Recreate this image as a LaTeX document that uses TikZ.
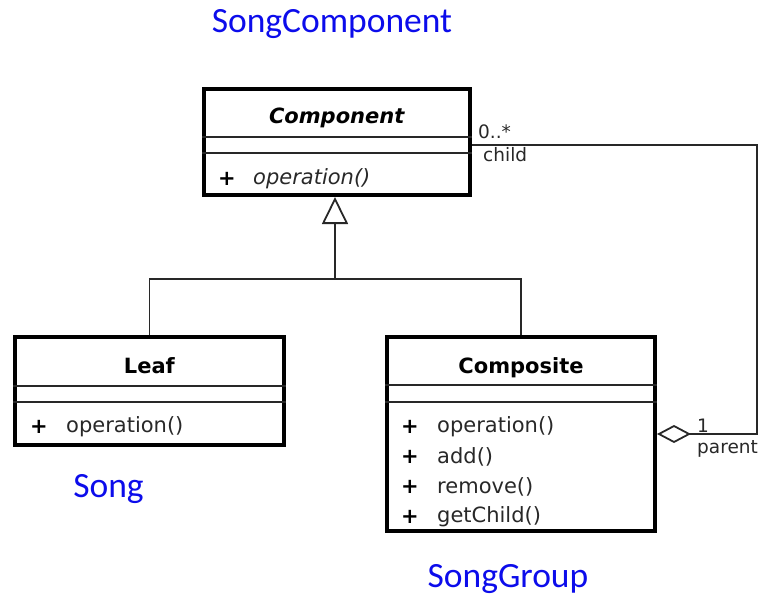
\documentclass[tikz,border=0pt]{standalone}
\usepackage{fontspec}
\setmainfont{DejaVu Sans}
\newfontfamily\songfont{Carlito}
\usetikzlibrary{arrows.meta}
\definecolor{songblue}{RGB}{12,12,235}
\definecolor{umlgray}{RGB}{40,40,40}

\begin{document}
\begin{tikzpicture}[x=1pt, y=-1pt,
  umlfont/.style={font=\fontsize{21}{25}\selectfont, text=umlgray, inner sep=0pt},
  rolefont/.style={font=\fontsize{18.5}{21}\selectfont, text=umlgray, inner sep=0pt},
  songlabel/.style={font=\songfont\fontsize{35.5}{40}\selectfont, text=songblue, inner sep=0pt, anchor=base},
  conn/.style={draw=umlgray, line width=1.8pt}]
\useasboundingbox (0,0) rectangle (778,596);

% class boxes
\node (comp) [draw, line width=4pt, minimum width=266pt, minimum height=106pt, inner sep=0pt] at (337,142) {};
\node (leaf) [draw, line width=4pt, minimum width=269pt, minimum height=108pt, inner sep=0pt] at (149.5,391) {};
\node (compos) [draw, line width=4pt, minimum width=268pt, minimum height=194pt, inner sep=0pt] at (521,434) {};
\foreach \n/\a/\b in {comp/50/66, leaf/51/67, compos/50/67} {
  \draw[umlgray, line width=1.8pt] ([yshift=-\a pt]\n.north west) -- ([yshift=-\a pt]\n.north east);
  \draw[umlgray, line width=1.8pt] ([yshift=-\b pt]\n.north west) -- ([yshift=-\b pt]\n.north east);
}

% names
\node (compname) [umlfont, text=black, anchor=base] at (337,124) {\textbf{\textit{Component}}};
\node (leafname) [umlfont, text=black, anchor=base] at (149.5,373) {\textbf{Leaf}};
\node (composname) [umlfont, text=black, anchor=base] at (521,373) {\textbf{Composite}};

% operations
\node (compplus) [umlfont, text=black] at (227,179) {\textbf{+}};
\node (compop) [umlfont, anchor=west] at (253,179) {\textit{operation()}};
\node (leafplus) [umlfont, text=black] at (39,427) {\textbf{+}};
\node (leafop) [umlfont, anchor=west] at (66,427) {operation()};
\foreach \op [count=\i from 0] in {operation(), add(), remove(), getChild()} {
  \node (composplus\i) [umlfont, text=black] at (410,427+30*\i) {\textbf{+}};
  \node (composop\i) [umlfont, anchor=west] at (437,427+30*\i) {\op};
}

% generalization
\coordinate (junc) at (335,279);
\draw[conn, -{Triangle[open, length=27pt, width=26pt]}] (junc) -- (junc |- comp.south);
\draw[conn] (leaf.north) |- (junc) -| (compos.north);

% aggregation
\coordinate (corner) at (757,145);
\draw[conn, {Diamond[open, length=34pt, width=18pt]}-] (compos.east) -| (corner) -- (corner -| comp.east);
\node (childmult) [rolefont, anchor=base west] at (478,139) {0..*};
\node (childrole) [rolefont, anchor=base west] at (483,162) {child};
\node (parentmult) [rolefont, anchor=base west] at (697,432) {1};
\node (parentrole) [rolefont, anchor=base west] at (697,453) {parent};

% song labels
\node (songcomp) [songlabel] at (332,33) {SongComponent};
\node (song) [songlabel] at (108.5,497) {Song};
\node (songgroup) [songlabel] at (508,587) {SongGroup};
\end{tikzpicture}
\end{document}
